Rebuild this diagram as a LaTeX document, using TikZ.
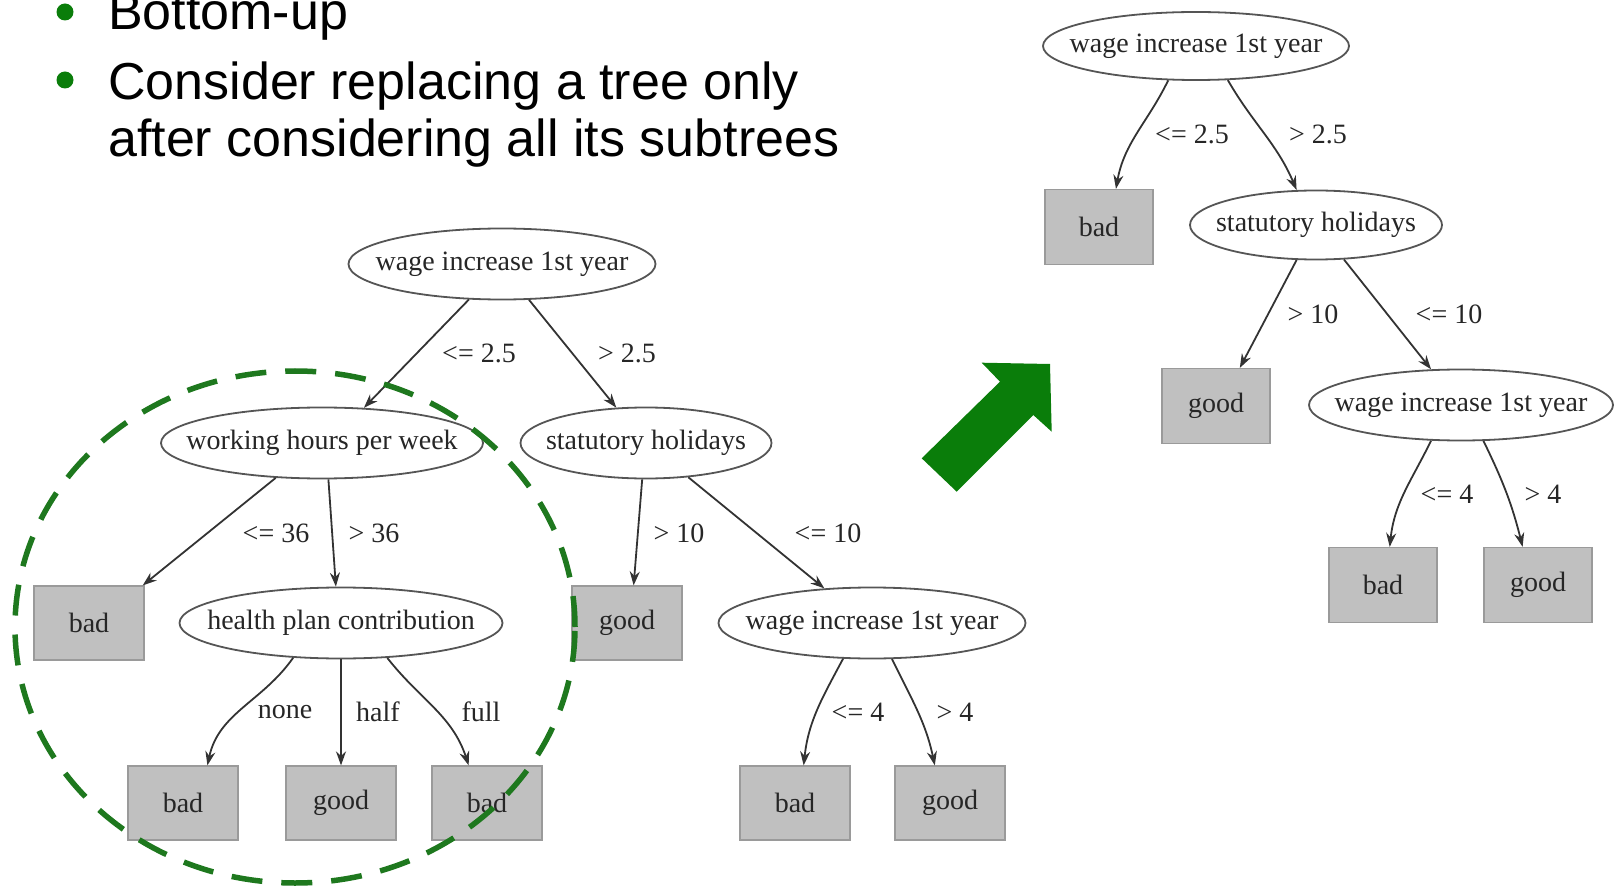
\documentclass[tikz,border=0pt]{standalone}
\usepackage{fontspec}
\setmainfont{Liberation Serif}
\newfontfamily\headfont{Liberation Sans}
\usetikzlibrary{shapes.geometric,arrows.meta}
\definecolor{edgegray}{HTML}{333333}
\definecolor{leafgray}{HTML}{C0C0C0}
\definecolor{leafline}{HTML}{9A9A9A}
\definecolor{ovalline}{HTML}{555555}
\definecolor{inkgray}{HTML}{262626}
\definecolor{bulletgreen}{HTML}{0A7D0A}
\definecolor{dashgreen}{HTML}{1E781E}
% oval labels take no width, so the ellipse size comes from the minimum sizes alone
\newcommand{\ovtext}[1]{\makebox[0pt][c]{#1}}
\begin{document}
\begin{tikzpicture}[x=1pt,y=1pt,
  oval/.style={ellipse,draw=ovalline,line width=1.8pt,fill=white,inner sep=0pt,
    minimum width=307pt,minimum height=71pt,text=inkgray,font=\fontsize{28}{30}\selectfont},
  leaf/.style={rectangle,draw=leafline,line width=1.2pt,fill=leafgray,inner sep=0pt,
    minimum width=110pt,minimum height=74pt,text=inkgray,font=\fontsize{28}{30}\selectfont},
  elabel/.style={text=inkgray,font=\fontsize{28}{30}\selectfont,inner sep=0pt},
  branch/.style={draw=edgegray,line width=1.8pt,-{Stealth[length=14pt,width=10pt]}},
  headline/.style={anchor=base west,inner sep=0pt,text=black,font=\headfont\fontsize{52}{60}\selectfont},
  bullet/.style={circle,fill=bulletgreen,inner sep=0pt,minimum size=17pt}
]
\useasboundingbox (0,0) rectangle (1615,-893);

% ---- bullet list ----
\node[bullet] (b1) at (65,-12) {};
\node[headline] (t1) at (108,-30) {Bottom-up};
\node[bullet] (b2) at (65,-80) {};
\node[headline] (t2) at (108,-100) {Consider replacing a tree only};
\node[headline] (t3) at (108,-157) {after considering all its subtrees};

% ---- original tree ----
\node[oval] (root) at (502,-264) {\ovtext{wage increase 1st year}};
\node[oval,minimum width=322pt] (work) at (322,-443) {\ovtext{working hours per week}};
\node[oval,minimum width=251pt] (stat) at (646,-443) {\ovtext{statutory holidays}};
\node[leaf] (bad1) at (89,-623) {bad};
\node[oval,minimum width=323pt] (health) at (341,-623) {\ovtext{health plan contribution}};
\node[leaf] (good1) at (627,-623) {good};
\node[oval] (wage2) at (872,-623) {\ovtext{wage increase 1st year}};
\node[leaf] (bad2) at (183,-803) {bad};
\node[leaf] (good2) at (341,-803) {good};
\node[leaf] (bad3) at (487,-803) {bad};
\node[leaf] (bad4) at (795,-803) {bad};
\node[leaf] (good3) at (950,-803) {good};

\draw[branch] (root.-133.5) -- (work.40.5);
\draw[branch] (root.-53.6) -- (stat.130.6);
\draw[branch] (work.-143.7) -- (bad1.35.8);
\draw[branch] (work.-80.8) -- (health.98);
\draw[branch] (stat.-96) -- (good1.80.5);
\draw[branch] (stat.-39.3) -- (wage2.144.7);
\draw[branch] (health.-144.8) to[out=-125,in=78] (bad2.57.4);
\draw[branch] (health.-90) -- (good2.90);
\draw[branch] (health.-37.5) to[out=-52,in=108] (bad3.116.6);
\draw[branch] (wage2.-129) to[out=-118,in=84] (bad4.77.5);
\draw[branch] (wage2.-61) to[out=-64,in=102] (good3.112.6);

\node[elabel] (l1) at (479,-353) {\textless= 2.5};
\node[elabel] (l2) at (627,-353) {\textgreater\ 2.5};
\node[elabel] (l3) at (276,-533) {\textless= 36};
\node[elabel] (l4) at (374,-533) {\textgreater\ 36};
\node[elabel] (l5) at (679,-533) {\textgreater\ 10};
\node[elabel] (l6) at (828,-533) {\textless= 10};
\node[elabel] (l7) at (285,-712) {none};
\node[elabel] (l8) at (378,-712) {half};
\node[elabel] (l9) at (481,-712) {full};
\node[elabel] (l10) at (858,-712) {\textless= 4};
\node[elabel] (l11) at (955,-712) {\textgreater\ 4};

% ---- subtree marked for replacement, drawn over the tree ----
\draw[dashgreen,line width=5.5pt,dash pattern=on 31pt off 19pt]
  (295,-627) ellipse [x radius=280pt,y radius=256pt];

% ---- replacement arrow ----
\fill[bulletgreen] (921.7,-458.3) -- (1000,-381.7) -- (981.7,-362.7) -- (1050,-364)
  -- (1051.7,-431.7) -- (1033.3,-415) -- (956.7,-491.7) -- cycle;

% ---- pruned tree ----
\node[oval,minimum width=306pt,minimum height=68pt] (rroot) at (1196,-46) {\ovtext{wage increase 1st year}};
\node[leaf,minimum width=108pt,minimum height=75pt] (rbad1) at (1099,-227) {bad};
\node[oval,minimum width=252pt,minimum height=69pt] (rstat) at (1316,-225) {\ovtext{statutory holidays}};
\node[leaf,minimum width=108pt,minimum height=75pt] (rgood1) at (1216,-406) {good};
\node[oval,minimum width=304pt,minimum height=71pt] (rwage) at (1461,-405) {\ovtext{wage increase 1st year}};
\node[leaf,minimum width=108pt,minimum height=75pt] (rbad2) at (1383,-585) {bad};
\node[leaf,minimum width=108pt,minimum height=75pt] (rgood2) at (1538,-585) {good};

\draw[branch] (rroot.-129) to[out=-116,in=80] (rbad1.66.6);
\draw[branch] (rroot.-47.5) to[out=-60,in=113] (rstat.119.7);
\draw[branch] (rstat.-119) -- (rgood1.58.8);
\draw[branch] (rstat.-51) -- (rwage.130.7);
\draw[branch] (rwage.-130.7) to[out=-116,in=84] (rbad2.80.8);
\draw[branch] (rwage.-58.6) to[out=-64,in=104] (rgood2.112);

\node[elabel] (r1) at (1192,-134) {\textless= 2.5};
\node[elabel] (r2) at (1318,-134) {\textgreater\ 2.5};
\node[elabel] (r3) at (1313,-314) {\textgreater\ 10};
\node[elabel] (r4) at (1449,-314) {\textless= 10};
\node[elabel] (r5) at (1447,-494) {\textless= 4};
\node[elabel] (r6) at (1543,-494) {\textgreater\ 4};
\end{tikzpicture}
\end{document}
